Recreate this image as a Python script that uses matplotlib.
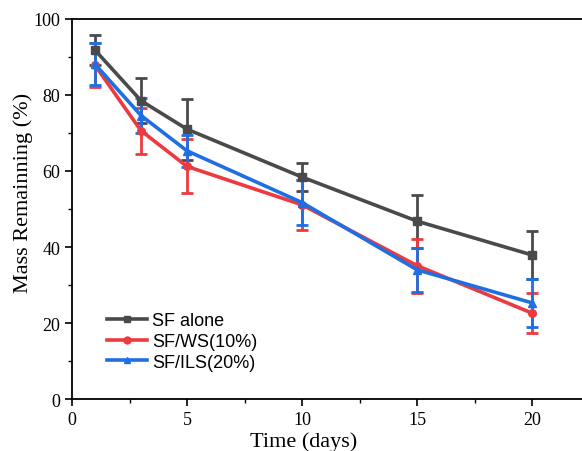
import numpy as np
import matplotlib
matplotlib.use("Agg")
import matplotlib.pyplot as plt
from matplotlib.ticker import MultipleLocator
from matplotlib.lines import Line2D

# data
days = [1, 3, 5, 10, 15, 20]

sf_alone = [91.8, 78.5, 71.0, 58.4, 46.8, 37.9]
sf_alone_err = [4.0, 5.9, 8.0, 3.6, 7.0, 6.4]

sf_ws = [87.8, 70.6, 61.2, 51.1, 35.1, 22.6]
sf_ws_err = [5.8, 6.1, 7.1, 6.6, 7.1, 5.3]

sf_ils = [88.1, 74.6, 65.3, 51.7, 34.0, 25.3]
sf_ils_err = [5.5, 4.7, 4.2, 5.8, 5.8, 6.3]

labels = ["SF alone", "SF/WS(10%)", "SF/ILS(20%)"]
colors = ["#4a4a4a", "#ee3a3f", "#1f6fe3"]
markers = ["s", "o", "^"]

plt.rcParams['font.family'] = 'Liberation Serif'

fig = plt.figure(figsize=(5.82, 4.52), dpi=100)
ax = fig.add_axes([0.1237, 0.115, 0.8763, 0.8408])

handles = []
for y, e, lab, c, m in zip([sf_alone, sf_ws, sf_ils],
                           [sf_alone_err, sf_ws_err, sf_ils_err],
                           labels, colors, markers):
    ax.errorbar(days, y, yerr=e, color=c, marker=m, markersize=5.5,
                linewidth=2.6, elinewidth=2, capsize=4, capthick=2)
    handles.append(Line2D([], [], color=c, marker=m, markersize=5,
                          linewidth=2.6, label=lab))

ax.set_xlim(0, 22.17)
ax.set_ylim(0, 100)
ax.xaxis.set_major_locator(MultipleLocator(5))
ax.xaxis.set_minor_locator(MultipleLocator(2.5))
ax.yaxis.set_major_locator(MultipleLocator(20))
ax.yaxis.set_minor_locator(MultipleLocator(10))
ax.tick_params(which='major', direction='out', length=5, width=1.2,
               labelsize=13)
ax.tick_params(which='minor', direction='out', length=3, width=1)
ax.spines['right'].set_visible(False)
for s in ['left', 'bottom', 'top']:
    ax.spines[s].set_linewidth(1.3)

ax.set_xlabel("Time (days)", fontsize=16)
ax.set_ylabel("Mass Remainning (%)", fontsize=16)
ax.xaxis.set_label_coords(0.4545, -0.085)
ax.yaxis.set_label_coords(-0.076, 0.546)

ax.legend(handles=handles, loc='lower left', bbox_to_anchor=(0.055, 0.056),
          frameon=False, prop={'family': 'Liberation Sans', 'size': 13},
          handlelength=2.2, handletextpad=0.3, labelspacing=0.2,
          borderaxespad=0)

plt.savefig("out.png", dpi=100)
